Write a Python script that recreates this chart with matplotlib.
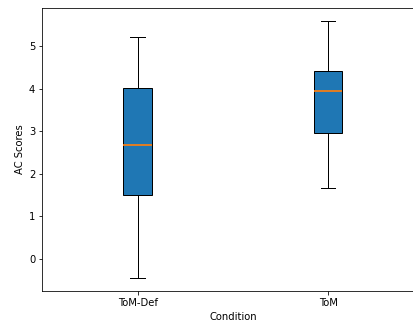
import matplotlib
matplotlib.use("Agg")
import matplotlib.pyplot as plt

categories = ["ToM-Def", "ToM"]
whislo = [-0.46, 1.66]
q1 = [1.51, 2.96]
med = [2.685, 3.94]
q3 = [4.02, 4.41]
whishi = [5.22, 5.60]

stats = []
for i, c in enumerate(categories):
    stats.append(dict(label=c, whislo=whislo[i], q1=q1[i], med=med[i],
                      q3=q3[i], whishi=whishi[i], fliers=[]))

W, H, DPI = 413, 325, 72
fig = plt.figure(figsize=(W / DPI, H / DPI), dpi=DPI)
left, right = 42.3, 423.5
top, bottom = 8, 291
ax = fig.add_axes([left / W, 1 - bottom / H, (right - left) / W, (bottom - top) / H])
bp = ax.bxp(stats, positions=[1, 2], widths=0.15, patch_artist=True, showfliers=False,
            boxprops=dict(facecolor="#1f77b4", edgecolor="black"))
for m in bp["medians"]:
    m.set_color("#ff7f0e")
    m.set_linewidth(1.7)
    m.set_zorder(5)
ax.set_xlim(0.5, 2.5)
ax.spines["right"].set_visible(False)
ax.set_ylabel("AC Scores")
ax.set_xlabel("Condition")
fig.savefig("out.png", dpi=DPI)
